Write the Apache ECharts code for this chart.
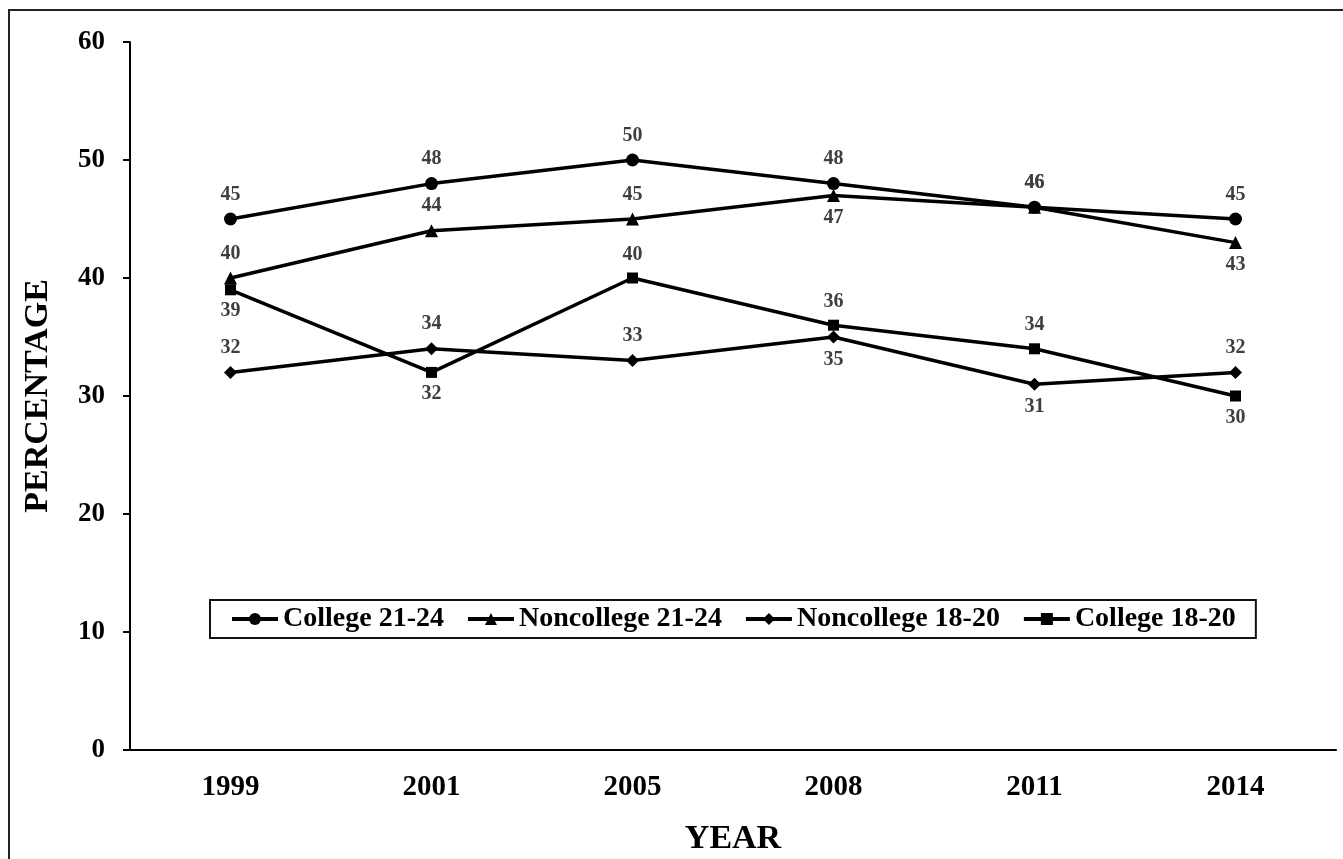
<!DOCTYPE html>
<html><head><meta charset="utf-8">
<script src="https://cdn.jsdelivr.net/npm/echarts@6/dist/echarts.min.js"></script>
<style>html,body{margin:0;padding:0;background:#fff}#c{width:1343px;height:859px}</style>
</head><body><div id="c"></div>
<script>
var years = ['1999','2001','2005','2008','2011','2014'];
var college2124 = [45,48,50,48,46,45];
var noncollege2124 = [40,44,45,47,46,43];
var noncollege1820 = [32,34,33,35,31,32];
var college1820 = [39,32,40,36,34,30];
var yTicks = [0,10,20,30,40,50,60];

var posC2124 = ['top','top','top','top','top','top'];
var posN2124 = ['top','top','top','bottom','top','bottom'];
var posN1820 = ['top','top','top','bottom','bottom','top'];
var posC1820 = ['bottom','bottom','top','top','top','bottom'];

var FONT = '"Liberation Serif","Times New Roman",serif';

function mk(vals, pos){
  return vals.map(function(v,i){
    return {value:v, label:{position:pos[i], distance: pos[i]==='top'?8:6}};
  });
}
function series(name, vals, pos, symbol, size){
  return {
    name:name, type:'line', data:mk(vals,pos), symbol:symbol, symbolSize:size,
    lineStyle:{color:'#000',width:3.5}, itemStyle:{color:'#000'},
    label:{show:true, color:'#3f3f3f', fontFamily:FONT, fontWeight:'bold', fontSize:20},
    z:3
  };
}
var chart = echarts.init(document.getElementById('c'));
chart.setOption({
  animation:false,
  backgroundColor:'#fff',
  graphic:[{type:'rect', shape:{x:9,y:10,width:1400,height:900}, style:{fill:'none',stroke:'#222',lineWidth:2}, z:-1}],
  grid:{left:130,right:7,top:42,bottom:109, outerBoundsMode:'none', containLabel:false},
  legend:{
    left:210, top:600, orient:'horizontal',
    borderColor:'#111', borderWidth:2, padding:[5,20], itemGap:22, itemWidth:46, itemHeight:15,
    lineStyle:{width:4, color:'#000'},
    textStyle:{fontFamily:FONT, fontWeight:'bold', fontSize:28, color:'#000'},
    data:['College 21-24','Noncollege 21-24','Noncollege 18-20','College 18-20']
  },
  xAxis:{
    type:'category', data:years, boundaryGap:true,
    name:'YEAR', nameLocation:'middle', nameGap:72,
    nameTextStyle:{fontFamily:FONT, fontWeight:'bold', fontSize:34, color:'#000'},
    axisLine:{lineStyle:{color:'#000',width:2}},
    axisTick:{alignWithLabel:true, length:7, lineStyle:{color:'#000',width:2}},
    axisLabel:{fontFamily:FONT, fontWeight:'bold', fontSize:29, color:'#000', margin:23}
  },
  yAxis:{
    type:'value', min:yTicks[0], max:yTicks[yTicks.length-1], interval:10,
    name:'PERCENTAGE', nameLocation:'middle', nameGap:75, nameRotate:90,
    nameTextStyle:{fontFamily:FONT, fontWeight:'bold', fontSize:34, color:'#000'},
    axisLine:{show:true, lineStyle:{color:'#000',width:2}},
    axisTick:{show:true, length:7, lineStyle:{color:'#000',width:2}},
    splitLine:{show:false},
    axisLabel:{fontFamily:FONT, fontWeight:'bold', fontSize:27, color:'#000', margin:25}
  },
  series:[
    series('College 21-24', college2124, posC2124, 'circle', 13),
    series('Noncollege 21-24', noncollege2124, posN2124, 'triangle', 13),
    series('Noncollege 18-20', noncollege1820, posN1820, 'diamond', 13),
    series('College 18-20', college1820, posC1820, 'rect', 11)
  ]
});
</script></body></html>
